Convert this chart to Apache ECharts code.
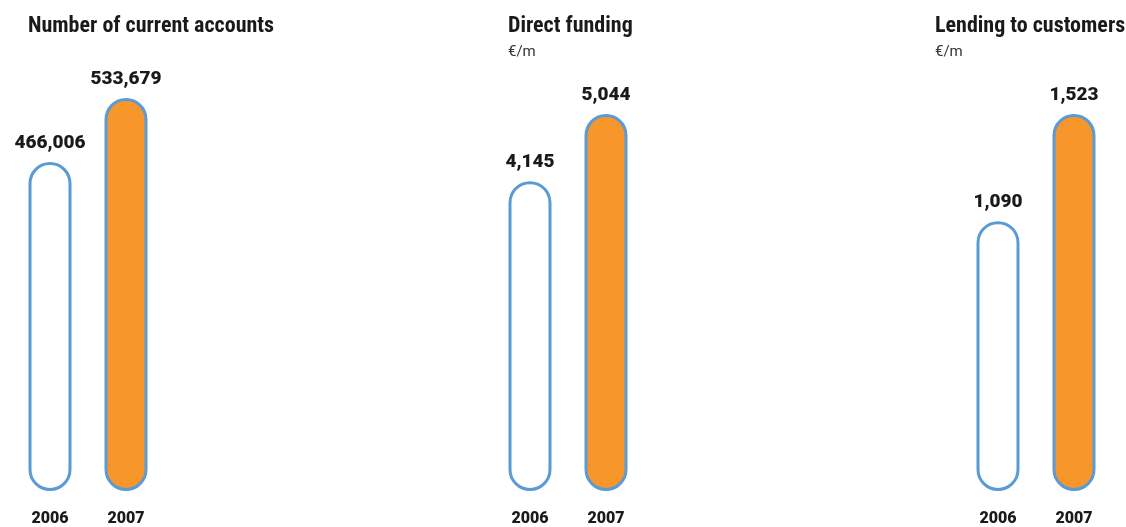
<!DOCTYPE html>
<html>
<head>
<meta charset="utf-8">
<script src="https://cdn.jsdelivr.net/npm/echarts@6/dist/echarts.min.js"></script>
<style>
  html, body { margin: 0; padding: 0; background: #fff; }
  #chart { width: 1126px; height: 527px; }
</style>
</head>
<body>
<div id="chart"></div>
<script>
const years = ['2006', '2007']
const accounts = [466006, 533679]
const funding = [4145, 5044]
const lending = [1090, 1523]

const panelTitles = ['Number of current accounts', 'Direct funding', 'Lending to customers']
const panelUnits = ['', '€/m', '€/m']

const blue = '#5b9bd5'
const orange = '#f7962a'
const titleFont = '"Roboto Condensed", "Open Sans Condensed", sans-serif'
const numFont = 'Roboto, "Noto Sans", sans-serif'

const chart = echarts.init(document.getElementById('chart'))

const fmt = v => v.toLocaleString('en-US')

// one grid per panel, all share the same bottom line
const grids = [
  { left: 12, top: 98, width: 152, bottom: 35 },
  { left: 492, top: 114, width: 152, bottom: 35 },
  { left: 960, top: 114, width: 152, bottom: 35 }
]
// first panel is not drawn from zero in the original
const yMins = [118000, 0, 0]
const panelData = [accounts, funding, lending]

const series = panelData.map((vals, i) => ({
  type: 'bar',
  xAxisIndex: i,
  yAxisIndex: i,
  barWidth: 43,
  clip: false,
  data: vals.map((v, j) => ({
    value: v,
    itemStyle: { color: j === 0 ? '#fff' : orange }
  })),
  itemStyle: {
    borderColor: blue,
    borderWidth: 3,
    borderRadius: 21
  },
  label: {
    show: true,
    position: 'top',
    distance: 9,
    formatter: p => fmt(p.value),
    fontFamily: numFont,
    fontWeight: 900,
    fontSize: 19,
    color: '#1a1a1a'
  },
  silent: true
}))

chart.setOption({
  animation: false,
  title: panelTitles.map((t, i) => ({
    text: t,
    subtext: panelUnits[i],
    left: [28, 508, 935][i],
    top: 15,
    padding: 0,
    itemGap: 8,
    textStyle: { fontFamily: titleFont, fontWeight: 'bold', fontSize: 22, color: '#1a1a1a' },
    subtextStyle: { fontFamily: 'Roboto, "Liberation Sans", sans-serif', fontSize: 15, color: '#333' }
  })),
  grid: grids,
  xAxis: grids.map((g, i) => ({
    type: 'category',
    gridIndex: i,
    data: years,
    axisLine: { show: false },
    axisTick: { show: false },
    axisLabel: {
      margin: 20,
      fontFamily: numFont,
      fontWeight: 900,
      fontSize: 16,
      color: '#1a1a1a'
    }
  })),
  yAxis: grids.map((g, i) => ({
    type: 'value',
    gridIndex: i,
    min: yMins[i],
    startValue: yMins[i],
    max: 'dataMax',
    show: false
  })),
  series
})
</script>
</body>
</html>
